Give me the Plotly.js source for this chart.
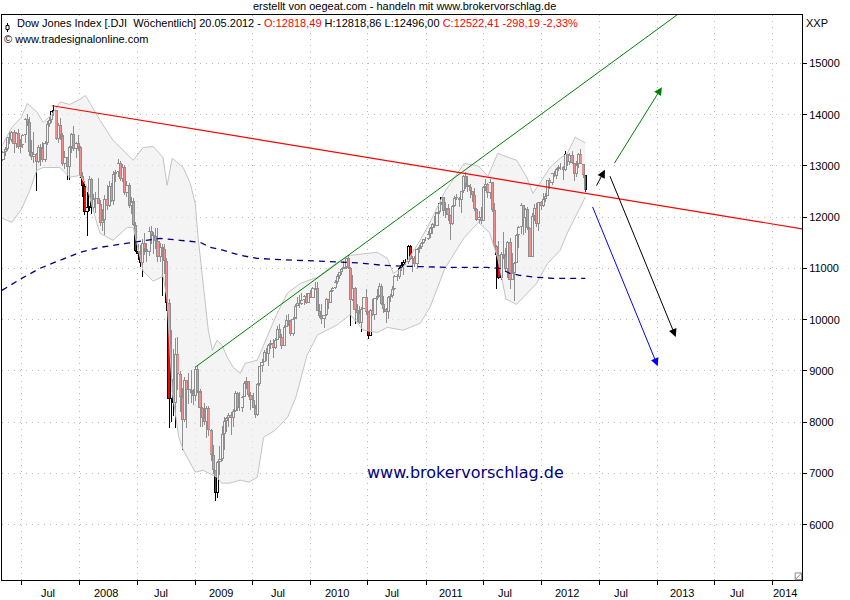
<!DOCTYPE html>
<html>
<head>
<meta charset="utf-8">
<script src="https://cdn.plot.ly/plotly-3.0.1.min.js"></script>
<style>
html,body{margin:0;padding:0;background:#fff;}
#chart{width:850px;height:600px;}
#chart .barlayer path{shape-rendering:crispEdges !important;}
</style>
</head>
<body>
<div id="chart"></div>
<script>
// ---- weekly candles (Dow Jones, weekly) ----
const weeks = [
'2007-05-04','2007-05-11','2007-05-18','2007-05-25','2007-06-01','2007-06-08','2007-06-15','2007-06-22','2007-06-29','2007-07-06','2007-07-13','2007-07-20','2007-07-27','2007-08-03','2007-08-10','2007-08-17','2007-08-24','2007-08-31','2007-09-07','2007-09-14','2007-09-21','2007-09-28','2007-10-05','2007-10-12','2007-10-19','2007-10-26','2007-11-02','2007-11-09','2007-11-16','2007-11-23','2007-11-30','2007-12-07','2007-12-14','2007-12-21','2007-12-28',
'2008-01-04','2008-01-11','2008-01-18','2008-01-25','2008-02-01','2008-02-08','2008-02-15','2008-02-22','2008-02-29','2008-03-07','2008-03-14','2008-03-21','2008-03-28','2008-04-04','2008-04-11','2008-04-18','2008-04-25','2008-05-02','2008-05-09','2008-05-16','2008-05-23','2008-05-30','2008-06-06','2008-06-13','2008-06-20','2008-06-27','2008-07-04','2008-07-11','2008-07-18','2008-07-25','2008-08-01','2008-08-08','2008-08-15','2008-08-22','2008-08-29','2008-09-05','2008-09-12','2008-09-19','2008-09-26','2008-10-03','2008-10-10','2008-10-17','2008-10-24','2008-10-31','2008-11-07','2008-11-14','2008-11-21','2008-11-28','2008-12-05','2008-12-12','2008-12-19','2008-12-26',
'2009-01-02','2009-01-09','2009-01-16','2009-01-23','2009-01-30','2009-02-06','2009-02-13','2009-02-20','2009-02-27','2009-03-06','2009-03-13','2009-03-20','2009-03-27','2009-04-03','2009-04-10','2009-04-17','2009-04-24','2009-05-01','2009-05-08','2009-05-15','2009-05-22','2009-05-29','2009-06-05','2009-06-12','2009-06-19','2009-06-26','2009-07-03','2009-07-10','2009-07-17','2009-07-24','2009-07-31','2009-08-07','2009-08-14','2009-08-21','2009-08-28','2009-09-04','2009-09-11','2009-09-18','2009-09-25','2009-10-02','2009-10-09','2009-10-16','2009-10-23','2009-10-30','2009-11-06','2009-11-13','2009-11-20','2009-11-27','2009-12-04','2009-12-11','2009-12-18','2009-12-25',
'2010-01-01','2010-01-08','2010-01-15','2010-01-22','2010-01-29','2010-02-05','2010-02-12','2010-02-19','2010-02-26','2010-03-05','2010-03-12','2010-03-19','2010-03-26','2010-04-02','2010-04-09','2010-04-16','2010-04-23','2010-04-30','2010-05-07','2010-05-14','2010-05-21','2010-05-28','2010-06-04','2010-06-11','2010-06-18','2010-06-25','2010-07-02','2010-07-09','2010-07-16','2010-07-23','2010-07-30','2010-08-06','2010-08-13','2010-08-20','2010-08-27','2010-09-03','2010-09-10','2010-09-17','2010-09-24','2010-10-01','2010-10-08','2010-10-15','2010-10-22','2010-10-29','2010-11-05','2010-11-12','2010-11-19','2010-11-26','2010-12-03','2010-12-10','2010-12-17','2010-12-24','2010-12-31',
'2011-01-07','2011-01-14','2011-01-21','2011-01-28','2011-02-04','2011-02-11','2011-02-18','2011-02-25','2011-03-04','2011-03-11','2011-03-18','2011-03-25','2011-04-01','2011-04-08','2011-04-15','2011-04-22','2011-04-29','2011-05-06','2011-05-13','2011-05-20','2011-05-27','2011-06-03','2011-06-10','2011-06-17','2011-06-24','2011-07-01','2011-07-08','2011-07-15','2011-07-22','2011-07-29','2011-08-05','2011-08-12','2011-08-19','2011-08-26','2011-09-02','2011-09-09','2011-09-16','2011-09-23','2011-09-30','2011-10-07','2011-10-14','2011-10-21','2011-10-28','2011-11-04','2011-11-11','2011-11-18','2011-11-25','2011-12-02','2011-12-09','2011-12-16','2011-12-23','2011-12-30',
'2012-01-06','2012-01-13','2012-01-20','2012-01-27','2012-02-03','2012-02-10','2012-02-17','2012-02-24','2012-03-02','2012-03-09','2012-03-16','2012-03-23','2012-03-30','2012-04-06','2012-04-13','2012-04-20','2012-04-27','2012-05-04','2012-05-11','2012-05-18'
];
const openP = [
13121,13264,13327,13556,13507,13668,13424,13639,13361,13408,13611,13908,13851,13265,13182,13239,13079,13379,13358,13113,13442,13820,13896,14066,14093,13522,13807,13595,13042,13177,12980,13372,13625,13339,13450,
13366,12800,12606,12099,12207,12743,12182,12348,12381,12266,11894,11951,12361,12216,12609,12325,12849,12891,13058,12745,12986,12480,12638,12210,12307,11843,11346,11289,11100,11496,11370,11326,11734,11659,11628,11543,11220,11421,11388,11143,10325,8451,8852,8378,9325,8943,8497,8046,8829,8635,8629,8579,
8515,9035,8599,8281,8077,8001,8280,7850,7366,7063,6627,7224,7279,7776,8018,8084,8131,8076,8212,8575,8268,8277,8500,8764,8799,8539,8438,8280,8146,8743,9093,9171,9370,9321,9505,9544,9441,9605,9820,9665,9487,9865,9996,9972,9713,10023,10270,10318,10310,10389,10471,10329,
10520,10428,10618,10610,10173,10067,10012,10099,10402,10325,10567,10625,10742,10850,10927,10997,11019,11204,11009,10380,10620,10193,10137,9931,10211,10450,10144,9686,10198,10097,10425,10466,10654,10303,10214,10150,10448,10462,10608,10861,10829,11006,11063,11133,11118,11445,11193,11204,11092,11382,11410,11492,11573,
11578,11675,11787,11872,11824,12092,12273,12391,12130,12170,12044,11859,12221,12377,12380,12342,12505,12811,12638,12596,12512,12441,12151,11952,12004,11934,12582,12657,12480,12681,12143,11445,11269,10818,11285,11240,10992,11509,10771,10913,11103,11644,11808,12231,11983,12153,11796,11231,12019,12184,11867,12294,
12218,12360,12422,12720,12660,12862,12801,12950,12983,12978,12922,13233,13081,13212,13060,12850,13029,13228,13038,12818.49
];
const highP = [
13298,13366,13563,13692,13692,13693,13654,13730,13530,13630,13935,14022,13950,13500,13660,13260,13400,13420,13470,13480,13870,13960,14080,14198,14100,13830,13930,13650,13290,13180,13380,13650,13780,13470,13600,
13380,12880,12700,12500,12800,12760,12450,12500,12760,12330,12160,12440,12620,12700,12660,12900,12920,13140,13100,13030,13020,12700,12660,12400,12380,11900,11470,11460,11580,11700,11490,11800,11830,11720,11790,11790,11500,11470,11470,11200,10400,9800,9420,9650,9654,9000,8670,8880,8830,8960,9010,8650,
9090,9088,8640,8290,8380,8320,8320,7860,7550,7070,7240,7530,7930,8100,8100,8180,8200,8260,8600,8580,8590,8510,8800,8880,8800,8580,8560,8330,8760,9100,9230,9400,9440,9520,9600,9620,9650,9880,9920,9730,9890,10090,10120,10000,10050,10300,10440,10480,10520,10480,10520,10530,
10580,10640,10730,10730,10300,10310,10100,10420,10410,10580,10630,10780,10900,10940,11000,11150,11210,11258,11020,10880,10640,10300,10270,10240,10450,10590,10160,10200,10410,10430,10590,10720,10700,10470,10220,10460,10510,10650,10870,10900,11030,11130,11160,11190,11450,11450,11250,11240,11400,11450,11520,11580,11610,
11740,11800,11890,12020,12100,12280,12400,12400,12290,12260,12050,12240,12420,12450,12390,12520,12830,12876,12800,12650,12520,12570,12170,12120,12200,12600,12750,12660,12750,12690,12280,11450,11540,11330,11720,11400,11530,11600,11300,11130,11680,11820,12280,12240,12180,12190,11800,12080,12260,12270,12300,12320,
12480,12480,12730,12760,12870,12900,12960,13010,13060,12990,13290,13240,13250,13300,13060,13100,13250,13340,13040,12818.86
];
const lowP = [
13096,13200,13290,13420,13460,13250,13360,13340,13250,13360,13450,13780,13200,13120,13050,12518,13050,12990,13080,13080,13400,13760,13840,13980,13510,13450,13500,13000,12950,12720,12720,13250,13300,13150,13300,
12760,12400,12050,11635,12120,12070,12100,12080,12250,11830,11730,11650,12150,12200,12300,12240,12690,12790,12700,12680,12440,12400,12170,12060,11830,11330,11160,11030,10828,11260,11130,11250,11470,11290,11370,11130,11130,10460,10900,10170,7882,8000,8120,7883,8630,8200,7450,8000,7880,8360,8380,8330,
8420,8560,7910,7900,7940,7700,7740,7250,6990,6470,6520,6960,7250,7450,7800,7900,7750,7900,8200,8210,8220,8200,8500,8640,8500,8230,8270,8090,8120,8700,8980,9170,9200,9090,9420,9250,9430,9600,9640,9430,9480,9860,9880,9680,9680,10020,10260,10230,10280,10290,10300,10320,
10420,10430,10570,10170,10040,9910,9840,10070,10200,10320,10540,10600,10700,10800,10880,10980,10980,10990,9870,10370,9920,9960,9920,9760,10200,10090,9614,9680,10080,9990,10380,10450,10280,10130,9940,10010,10340,10430,10570,10750,10800,10950,10870,11060,11090,11160,10930,11020,10990,11300,11370,11470,11530,
11560,11590,11670,11780,11820,12060,12240,12030,11980,11930,11555,11850,12190,12340,12190,12090,12470,12550,12500,12380,12290,12130,11930,11860,11870,11930,12520,12380,12360,12100,11390,10600,10790,10780,11180,10940,10810,10600,10770,10360,11100,11390,11680,11650,11700,11760,11230,11230,11930,11810,11730,12150,
12200,12300,12420,12560,12620,12780,12740,12900,12920,12720,12900,13000,13020,13040,12710,12780,12970,13030,12760,12496
];
const closeP = [
13264,13327,13556,13507,13668,13424,13639,13361,13408,13611,13908,13851,13265,13182,13239,13079,13379,13358,13113,13442,13820,13896,14066,14093,13522,13807,13595,13042,13177,12980,13372,13625,13339,13450,13366,
12800,12606,12099,12207,12743,12182,12348,12381,12266,11894,11951,12361,12216,12609,12325,12849,12891,13058,12745,12986,12480,12638,12210,12307,11843,11346,11289,11100,11496,11370,11326,11734,11659,11628,11543,11220,11421,11388,11143,10325,8451,8852,8378,9325,8943,8497,8046,8829,8635,8629,8579,8515,
9035,8599,8281,8077,8001,8280,7850,7366,7063,6627,7224,7279,7776,8018,8084,8131,8076,8212,8575,8268,8277,8500,8764,8799,8539,8438,8280,8146,8743,9093,9171,9370,9321,9505,9544,9441,9605,9820,9665,9487,9865,9996,9972,9713,10023,10270,10318,10310,10389,10471,10329,10520,
10428,10618,10610,10173,10067,10012,10099,10402,10325,10567,10625,10742,10850,10927,10997,11019,11204,11009,10380,10620,10193,10137,9931,10211,10450,10144,9686,10198,10097,10425,10466,10654,10303,10214,10150,10448,10462,10608,10861,10829,11006,11063,11133,11118,11445,11193,11204,11092,11382,11410,11492,11573,11578,
11675,11787,11872,11824,12092,12273,12391,12130,12170,12044,11859,12221,12377,12380,12342,12505,12811,12638,12596,12512,12441,12151,11952,12004,11934,12582,12657,12480,12681,12143,11445,11269,10818,11285,11240,10992,11509,10771,10913,11103,11644,11808,12231,11983,12153,11796,11231,12019,12184,11867,12294,12218,
12360,12422,12720,12660,12862,12801,12950,12983,12978,12922,13233,13081,13212,13060,12850,13029,13228,13038,12821,12522.41
];

// ---- Bollinger band ----
const upperDates = ['2007-05-01','2007-06-01','2007-07-01','2007-07-20','2007-08-20','2007-09-08','2007-10-05','2007-11-01','2007-12-01','2008-01-03','2008-01-20','2008-02-10','2008-03-06','2008-04-16','2008-05-10','2008-06-19','2008-07-20','2008-08-21','2008-09-21','2008-10-04','2008-10-20','2008-11-24','2008-12-16','2009-01-01','2009-01-10','2009-01-26','2009-02-11','2009-02-24','2009-03-11','2009-03-27','2009-04-12','2009-05-01','2009-05-23','2009-06-08','2009-07-16','2009-08-15','2009-09-15','2009-10-19','2009-11-29','2010-01-22','2010-03-26','2010-05-06','2010-07-30','2010-08-31','2010-09-19','2010-10-20','2010-12-13','2011-01-13','2011-03-01','2011-05-01','2011-06-15','2011-07-15','2011-08-15','2011-10-14','2011-11-15','2011-12-04','2011-12-26','2012-01-27','2012-02-28','2012-03-22','2012-04-16','2012-05-18'];
const bandUpper = [13400,13750,13950,14220,14050,13850,14000,14250,14200,14300,14375,14150,13890,13500,13360,13110,13360,13380,13165,12620,13150,12970,12660,12270,11600,10710,9800,9400,9600,9500,9270,9070,8955,9150,9210,9650,10100,10515,10710,10827,11120,11256,11315,11198,10905,11022,11550,11900,12500,13050,13000,12800,13245,13110,12780,12465,12660,12970,13150,13245,13560,13450];
const lowerDates = ['2007-05-01','2007-06-01','2007-07-01','2007-07-28','2007-08-19','2007-09-08','2007-10-31','2007-12-01','2008-01-03','2008-01-25','2008-02-25','2008-03-06','2008-04-16','2008-05-31','2008-06-19','2008-07-20','2008-08-21','2008-09-21','2008-10-04','2008-10-20','2008-11-10','2008-11-24','2009-01-01','2009-01-26','2009-03-11','2009-03-25','2009-04-20','2009-05-23','2009-06-20','2009-07-16','2009-08-05','2009-09-10','2009-10-20','2009-11-15','2009-12-20','2010-01-22','2010-03-26','2010-05-06','2010-06-15','2010-07-30','2010-08-31','2010-10-20','2010-12-13','2011-01-13','2011-03-01','2011-05-01','2011-06-15','2011-07-20','2011-08-15','2011-09-10','2011-10-14','2011-11-15','2011-12-15','2012-01-20','2012-02-28','2012-03-22','2012-04-16','2012-05-18'];
const bandLower = [11980,11900,12150,12525,12915,12970,12970,12780,12815,12580,11880,11685,11550,11800,11800,10950,10750,10850,10400,8600,7700,7453,7025,7060,6925,6810,6810,6870,6830,6925,7707,7840,8100,8487,9300,9700,9900,10100,9800,9750,9850,9795,9930,10240,11000,11600,11900,11700,11200,10400,10300,10500,10700,11100,11350,11690,12000,12390];

// ---- long moving average (dashed) ----
const maDates = ['2007-05-01','2007-06-27','2007-08-29','2007-10-31','2008-01-03','2008-03-06','2008-05-09','2008-07-11','2008-09-12','2008-11-14','2009-01-16','2009-02-17','2009-03-20','2009-05-23','2009-07-15','2009-09-04','2009-11-29','2010-02-10','2010-04-27','2010-06-16','2010-08-18','2010-11-02','2010-12-23','2011-03-07','2011-07-11','2011-08-21','2011-09-22','2011-10-23','2011-12-16','2012-02-05','2012-03-30','2012-05-18'];
const maValues = [10573,10788,11003,11159,11315,11412,11470,11529,11588,11549,11510,11412,11373,11256,11198,11178,11159,11139,11120,11100,11061,11042,11030,11022,11022,11003,10905,10866,10827,10808,10808,10808];

// ---- trend lines ----
const redLineDates = ['2007-10-07','2014-04-28'];
const redLineValues = [14175, 11748];
const greenLineDates = ['2009-01-02','2013-05-15'];
const greenLineValues = [9078, 16273];

// ---- arrows (tail -> head) ----
const arrowTailDates = ['2012-08-15','2012-06-20','2012-08-02','2012-06-08'];
const arrowTailValues = [13025, 12588, 12830, 12231];
const arrowHeadDates = ['2013-01-15','2012-07-19','2013-02-28','2013-01-02'];
const arrowHeadValues = [14538, 12927, 9663, 9092];
const arrowColors = ['#008000','#000000','#000000','#0000ff'];

// ---- axis ticks ----
const xTickDates = ['2007-07-01','2008-01-01','2008-07-01','2009-01-01','2009-07-01','2010-01-01','2010-07-01','2011-01-01','2011-07-01','2012-01-01','2012-07-01','2013-01-01','2013-07-01','2014-01-01'];
const xTickLabels = ['Jul','2008','Jul','2009','Jul','2010','Jul','2011','Jul','2012','Jul','2013','Jul','2014'];
const xLabelShift = [27,26,24,26,25,26,24,25,22,25,22,25,22,12];
const yTickValues = [6000,7000,8000,9000,10000,11000,12000,13000,14000,15000];

const FONT = 'Liberation Sans, Arial, sans-serif';
const DAY = 86400000;
const EDGE = 20; // about one pixel of price, used for the candle outline

// candle parts derived from the OHLC arrays
const bodyBase = openP.map((o, i) => Math.min(o, closeP[i]));
const bodyLen = openP.map((o, i) => Math.max(Math.abs(closeP[i] - o), 10));
const innerBase = bodyBase.map(b => b + EDGE);
const innerLen = bodyLen.map(l => Math.max(l - 2 * EDGE, 0));
const innerColor = openP.map((o, i) => closeP[i] < o ? 'rgba(255,0,0,0.999)' : 'rgba(255,255,255,0.999)');
const wickLen = highP.map((h, i) => h - lowP[i]);

const traces = [
  {type:'scatter', mode:'lines', x: lowerDates, y: bandLower, line:{color:'#c4c4c4', width:1}, hoverinfo:'skip'},
  {type:'scatter', mode:'lines', x: upperDates, y: bandUpper, line:{color:'#c4c4c4', width:1}, fill:'tonexty', fillcolor:'rgba(236,236,236,0.6)', hoverinfo:'skip'},
  {type:'scatter', mode:'lines', x: maDates, y: maValues, line:{color:'#000080', width:1.3, dash:'6px,5px'}, hoverinfo:'skip'},
  {type:'bar', x: weeks, y: wickLen, base: lowP, width: 3.3 * DAY, marker:{color:'rgba(0,0,0,0.999)', line:{width:0}}, hoverinfo:'skip'},
  {type:'bar', x: weeks, y: bodyLen, base: bodyBase, width: 10 * DAY, marker:{color:'rgba(0,0,0,0.999)', line:{width:0}}, hoverinfo:'skip'},
  {type:'bar', x: weeks, y: innerLen, base: innerBase, width: 4 * DAY, marker:{color: innerColor, line:{width:0}}, hoverinfo:'skip'},
  {type:'scatter', mode:'lines', x: redLineDates, y: redLineValues, line:{color:'#ff0000', width:1.2}, hoverinfo:'skip'},
  {type:'scatter', mode:'lines', x: greenLineDates, y: greenLineValues, line:{color:'#008000', width:1}, hoverinfo:'skip'}
];

const annotations = [];
for (let i = 0; i < xTickDates.length; i++) {
  annotations.push({xref:'x', yref:'paper', x: xTickDates[i], y: 0, xanchor:'center', yanchor:'top',
    xshift: xLabelShift[i], yshift: -5, text: xTickLabels[i], showarrow:false,
    font:{family:FONT, size:11, color:'#000'}});
}
for (let i = 0; i < arrowTailDates.length; i++) {
  annotations.push({xref:'x', yref:'y', axref:'x', ayref:'y', x: arrowHeadDates[i], y: arrowHeadValues[i],
    ax: arrowTailDates[i], ay: arrowTailValues[i], text:'', showarrow:true, arrowhead:2, arrowsize:1.6,
    arrowwidth:1, arrowcolor: arrowColors[i], standoff:0, startstandoff:0});
}
const n = closeP.length - 1;
const fmt = v => v.toFixed(2).replace('.', ',');
annotations.push({xref:'paper', yref:'paper', x:0.5, y:1, xanchor:'center', yanchor:'middle', yshift:9, xshift:2,
  text:'erstellt von oegeat.com - handeln mit www.brokervorschlag.de', showarrow:false,
  font:{family:FONT, size:11, color:'#000'}});
annotations.push({xref:'paper', yref:'paper', x:0, y:1, xanchor:'left', yanchor:'middle', xshift:13, yshift:-8,
  text:'Dow Jones Index [.DJI&nbsp;&nbsp;Wöchentlich] 20.05.2012 - <span style="color:#ff0000">O:' + fmt(openP[n]) +
       '</span> H:' + fmt(highP[n]) + ' L:' + fmt(lowP[n]) + ' <span style="color:#ff0000">C:' + fmt(closeP[n]) + ' -298,19 -2,33%</span>',
  showarrow:false, font:{family:FONT, size:11, color:'#000'}});
annotations.push({xref:'paper', yref:'paper', x:0, y:1, xanchor:'left', yanchor:'middle', xshift:0, yshift:-24,
  text:'© www.tradesignalonline.com', showarrow:false, font:{family:FONT, size:11, color:'#000'}});
annotations.push({xref:'paper', yref:'paper', x:1, y:1, xanchor:'left', yanchor:'middle', xshift:2, yshift:-8,
  text:'XXP', showarrow:false, font:{family:FONT, size:11, color:'#000'}});
annotations.push({xref:'paper', yref:'paper', x:0.58, y:0.191, xanchor:'center', yanchor:'middle',
  text:'www.brokervorschlag.de', showarrow:false, font:{family:'DejaVu Sans, Verdana, sans-serif', size:16, color:'#000080'}});

const shapes = [
  {type:'line', xref:'paper', yref:'paper', x0:0.0069, x1:0.0069, y0:0.9858, y1:0.9699, line:{color:'#000', width:1}},
  {type:'rect', xref:'paper', yref:'paper', x0:0.0050, x1:0.0088, y0:0.9814, y1:0.9743, line:{color:'#000', width:1}, fillcolor:'#fff'},
  {type:'rect', xref:'paper', yref:'paper', x0:0.9915, x1:0.9995, y0:0.0005, y1:0.0125, line:{color:'#888', width:1}, fillcolor:'#fff'},
  {type:'line', xref:'paper', yref:'paper', x0:0.9915, x1:0.9995, y0:0.0005, y1:0.0125, line:{color:'#888', width:1}}
];

const layout = {
  width:850, height:600,
  margin:{l:2, r:48, t:15, b:20, pad:0},
  paper_bgcolor:'#ffffff', plot_bgcolor:'#ffffff',
  showlegend:false, hovermode:false,
  font:{family:FONT, size:11, color:'#000'},
  barmode:'overlay', bargap:0, bargroupgap:0,
  xaxis:{type:'date', range:['2007-05-01','2014-04-03'],
    tickmode:'array', tickvals:xTickDates, showticklabels:false, ticks:'outside', ticklen:4, tickcolor:'#000',
    showgrid:true, gridcolor:'#b8b8b8', griddash:'1px,5px', gridwidth:1,
    showline:true, linecolor:'#000', linewidth:1, mirror:true, zeroline:false, fixedrange:true},
  yaxis:{range:[4920, 15946], side:'right', tickmode:'array', tickvals:yTickValues, tickformat:'d',
    ticks:'outside', ticklen:4, tickcolor:'#000', tickfont:{family:FONT, size:11, color:'#000'},
    showgrid:true, gridcolor:'#b8b8b8', griddash:'1px,5px', gridwidth:1,
    showline:true, linecolor:'#000', linewidth:1, mirror:true, zeroline:false, fixedrange:true},
  annotations: annotations,
  shapes: shapes
};

Plotly.newPlot('chart', traces, layout, {displayModeBar:false});
</script>
</body>
</html>
